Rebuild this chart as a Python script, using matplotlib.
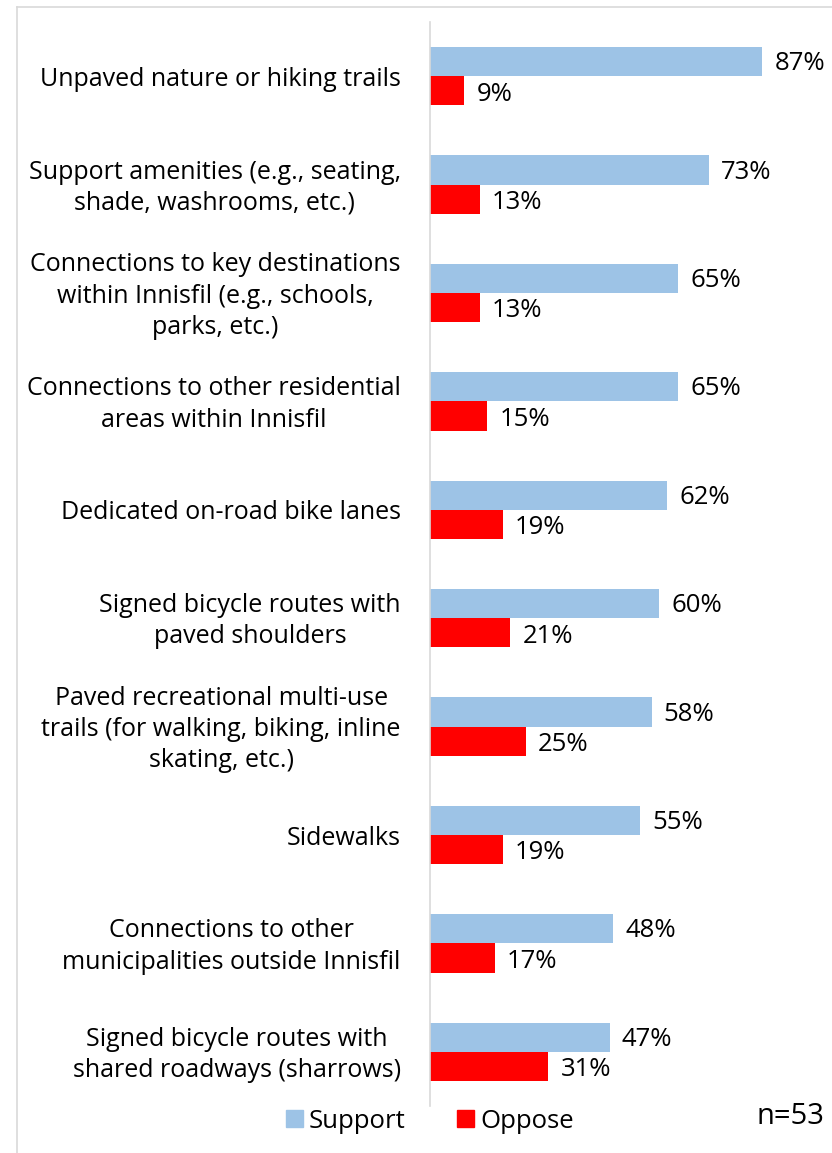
import matplotlib
matplotlib.use("Agg")
import matplotlib.pyplot as plt
from matplotlib.lines import Line2D
from matplotlib.patches import Patch

plt.rcParams['font.family'] = ['Open Sans', 'DejaVu Sans']

categories = [
    "Unpaved nature or hiking trails",
    "Support amenities (e.g., seating,\nshade, washrooms, etc.)",
    "Connections to key destinations\nwithin Innisfil (e.g., schools,\nparks, etc.)",
    "Connections to other residential\nareas within Innisfil",
    "Dedicated on-road bike lanes",
    "Signed bicycle routes with\npaved shoulders",
    "Paved recreational multi-use\ntrails (for walking, biking, inline\nskating, etc.)",
    "Sidewalks",
    "Connections to other\nmunicipalities outside Innisfil",
    "Signed bicycle routes with\nshared roadways (sharrows)",
]
support = [87, 73, 65, 65, 62, 60, 58, 55, 48, 47]
oppose = [9, 13, 13, 15, 19, 21, 25, 19, 17, 31]
series_names = ["Support", "Oppose"]
sample_note = "n=53"

c_support = "#9DC3E6"
c_oppose = "#FF0000"

W, H = 832, 1153
fig = plt.figure(figsize=(W / 100, H / 100), dpi=100)
ax = fig.add_axes([430 / W, 1 - 1106 / H, (812 - 430) / W, (1106 - 22) / H])

h = 0.27
ys = list(range(len(categories)))
ax.barh([y - h / 2 for y in ys], support, height=h, color=c_support, zorder=2)
ax.barh([y + h / 2 for y in ys], oppose, height=h, color=c_oppose, zorder=2)

for y, s, o in zip(ys, support, oppose):
    ax.text(s + 3.2, y - h / 2 + 0.02, f"{s}%", va="center", ha="left", fontsize=18.5)
    ax.text(o + 3.2, y + h / 2 + 0.03, f"{o}%", va="center", ha="left", fontsize=18.5)

ax.set_xlim(0, 100)
ax.set_ylim(len(categories) - 0.5, -0.5)
label_nudge = 0.028  # small downward nudge of the category labels
ax.set_yticks([y + label_nudge for y in ys])
ax.set_yticklabels(categories, fontsize=18, multialignment="center",
                   linespacing=1.33, va="center")
ax.tick_params(axis="y", length=0, pad=21)
ax.set_xticks([])
for sp in ["top", "right", "bottom"]:
    ax.spines[sp].set_visible(False)
ax.spines["left"].set_color("#D9D9D9")
ax.spines["left"].set_linewidth(1.2)

# chart frame
fig.add_artist(Line2D([17 / W, 17 / W], [0, 1 - 7 / H], color="#D9D9D9", lw=1.2))
fig.add_artist(Line2D([17 / W, 1], [1 - 7 / H, 1 - 7 / H], color="#D9D9D9", lw=1.2))

handles = [Patch(color=c_support), Patch(color=c_oppose)]
fig.legend(handles, series_names, loc="center", bbox_to_anchor=(430 / W, 1 - 1121 / H),
           ncol=2, frameon=False, fontsize=18.5, handlelength=0.65, handleheight=0.65,
           handletextpad=0.25, columnspacing=2.0)
fig.text(790 / W, 1 - 1116 / H, sample_note, ha="center", va="center", fontsize=21)

fig.savefig("out.png", dpi=100)
